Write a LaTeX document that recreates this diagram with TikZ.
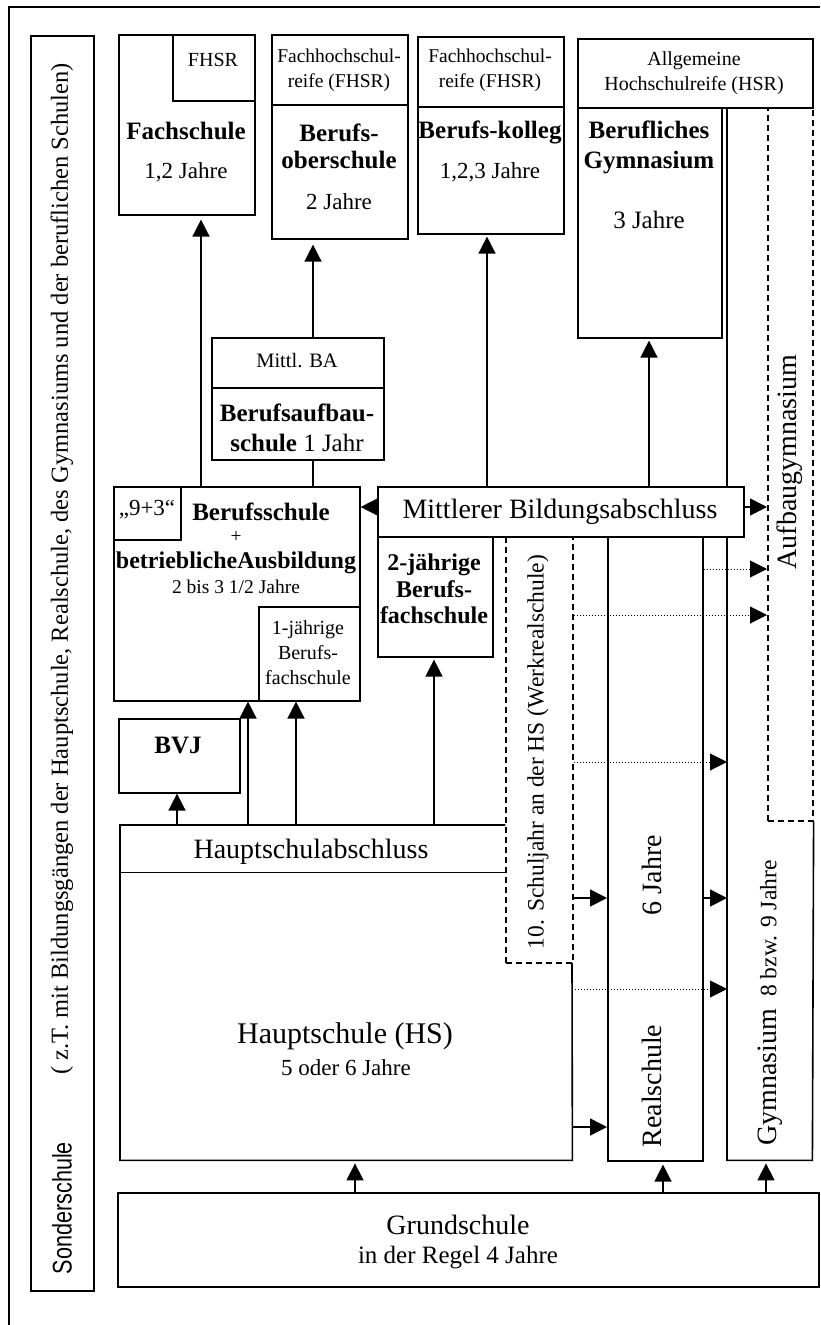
\documentclass[tikz,border=0pt]{standalone}
\usepackage{fontspec}
\setmainfont{Liberation Serif}
\newfontfamily\sonderfont{Liberation Sans}
\usetikzlibrary{arrows.meta}

\tikzset{
  box/.style={draw, line width=1.6pt, fill=white, rectangle, inner sep=0pt},
  dashbox/.style={draw, line width=1.6pt, dash pattern=on 6pt off 4pt, fill=white, rectangle, inner sep=0pt},
  hidden/.style={rectangle, inner sep=0pt},
  rim/.style={line width=1.6pt},
  arr/.style={line width=1.6pt, -{Triangle[width=17pt,length=17pt]}},
  dotarr/.style={line width=1pt, dotted, -{Triangle[width=17pt,length=17pt]}},
  lbl/.style={inner sep=0pt, align=center},
  fbold/.style={font=\fontsize{25}{27}\selectfont\bfseries},
  freg/.style={font=\fontsize{23}{26}\selectfont},
  fsmall/.style={font=\fontsize{19.5}{25}\selectfont},
  flarge/.style={font=\fontsize{28}{31}\selectfont},
}

\begin{document}
\begin{tikzpicture}[x=1pt, y=-1pt]
  \useasboundingbox (0,0) rectangle (820,1325);
  \draw[line width=2pt] (9,1325) -- (9,7) -- (820,7);

  % Gymnasium und Hauptschule (Umrisse ohne eigene Kanten)
  \node[hidden, anchor=north west, minimum width=85pt, minimum height=1053pt] (gym) at (727,107) {};
  \node[hidden, anchor=north west, minimum width=452pt, minimum height=335pt] (hs) at (120,825) {};
  \node[hidden, anchor=north west, minimum width=385pt, minimum height=47pt] (hsa) at (120,825) {};
  \node[dashbox, anchor=north west, minimum width=45pt, minimum height=713pt] (aufbau) at (767,107) {};
  \draw[rim] (gym.north west) -- (gym.south west) -- (gym.south east) -- (aufbau.south east);
  \draw[rim] (hsa.north east) -- (hsa.north west) -- (hs.south west) -- (hs.south east) -- (572,962);
  \draw[rim] (hsa.south west) -- (hsa.south east);

  % Kaesten
  \foreach \n/\xa/\ya/\xb/\yb in {
      sonder/30/35/93/1290, fachs/118/34/254/214, fhsrA/172/34/254/100,
      bosR/271/34/407/104, bos/271/104/407/238, bkR/417/36/563/106,
      bk/417/106/563/233, hsr/577/38/812/107, bg/577/107/721/337,
      mittl/211/337/383/387, bas/211/387/383/459, bsch/113/486/359/700,
      neun/113/486/180/539, bfsA/258/606/359/700, bfsB/377/536/492/656,
      bvj/118/718/239/792, real/607/536/702/1160, grund/117/1192/818/1286}
    \node[box, anchor=north west, minimum width={(\xb-\xa)*1pt},
          minimum height={(\yb-\ya)*1pt}] (\n) at (\xa,\ya) {};
  \node[dashbox, anchor=north west, minimum width=67pt, minimum height=426pt] (wrs) at (505,536) {};
  \node[box, anchor=north west, minimum width=366pt, minimum height=50pt] (mba) at (377,486) {};

  % Texte
  \node[lbl, fsmall, font=\fontsize{20}{24}\selectfont] (tFhsrA) at (213,60) {FHSR};
  \node[lbl, fbold] (tFachs) at (186,131) {Fachschule};
  \node[lbl, freg] (tFachsJ) at (186,172) {1,2 Jahre};
  \node[lbl, fsmall] (tBosR) at (339,70) {Fachhochschul-\\reife (FHSR)};
  \node[lbl, fbold] (tBos) at (339,146) {Berufs-\\oberschule};
  \node[lbl, freg] (tBosJ) at (339,202) {2 Jahre};
  \node[lbl, fsmall] (tBkR) at (490,70) {Fachhochschul-\\reife (FHSR)};
  \node[lbl, fbold] (tBk) at (490,132) {Berufs-kolleg};
  \node[lbl, freg] (tBkJ) at (490,172) {1,2,3 Jahre};
  \node[lbl, fsmall, font=\fontsize{20}{25}\selectfont] (tHsr) at (694,73) {Allgemeine\\Hochschulreife (HSR)};
  \node[lbl, fbold, font=\fontsize{25}{30}\selectfont\bfseries] (tBg) at (649,147) {Berufliches\\Gymnasium};
  \node[lbl, freg, font=\fontsize{25}{28}\selectfont] (tBgJ) at (649,220) {3 Jahre};
  \node[lbl, fsmall, font=\fontsize{20.5}{24}\selectfont] (tMittl) at (297,361) {Mittl. BA};
  \node[lbl, fbold, font=\fontsize{25}{30}\selectfont\bfseries] (tBas) at (297,428) {Berufsaufbau-\\schule \textmd{1 Jahr}};
  \node[lbl, freg] (tNeun) at (147,510) {„9+3“};
  \node[lbl, fbold] (tBsch) at (261,512) {Berufsschule};
  \node[lbl, fsmall] (tPlus) at (236,537) {+};
  \node[lbl, fbold, font=\fontsize{24}{26}\selectfont\bfseries] (tBetr) at (236,563) {betrieblicheAusbildung};
  \node[lbl, fsmall] (tBschJ) at (236,587) {2 bis 3 1/2 Jahre};
  \node[lbl, fsmall, font=\fontsize{20}{25}\selectfont] (tBfsA) at (308,653) {1-jährige\\Berufs-\\fachschule};
  \node[lbl, flarge] (tMba) at (560,512) {Mittlerer Bildungsabschluss};
  \node[lbl, fbold, font=\fontsize{24}{26.5}\selectfont\bfseries] (tBfsB) at (434,589) {2-jährige\\Berufs-\\fachschule};
  \node[lbl, fbold] (tBvj) at (178,745) {BVJ};
  \node[lbl, flarge] (tHsa) at (311,852) {Hauptschulabschluss};
  \node[lbl, flarge, font=\fontsize{30}{33}\selectfont] (tHs) at (345,1036) {Hauptschule (HS)};
  \node[lbl, freg] (tHsJ) at (346,1068) {5 oder 6 Jahre};
  \node[lbl, freg, font=\fontsize{23.5}{26}\selectfont, rotate=90] (tWrs) at (538,752) {10. Schuljahr an der HS (Werkrealschule)};
  \node[lbl, flarge, rotate=90] (tRsJ) at (652,875) {6 Jahre};
  \node[lbl, flarge, rotate=90] (tRs) at (652,1086) {Realschule};
  \node[lbl, flarge, rotate=90] (tGym) at (770,1003) {Gymnasium\hspace{12pt}{\fontsize{23.5}{26}\selectfont 8 bzw. 9 Jahre}};
  \node[lbl, flarge, rotate=90] (tAufbau) at (790,462) {Aufbaugymnasium};
  \node[lbl, flarge] (tGrund) at (458,1225) {Grundschule};
  \node[lbl, freg, font=\fontsize{25}{28}\selectfont] (tGrundJ) at (458,1258) {in der Regel 4 Jahre};
  \node[lbl, font=\fontsize{27}{29}\sonderfont, rotate=90] (tSonder) at (62,1208) {\scalebox{0.8}[1]{Sonderschule}};
  \node[lbl, font=\fontsize{24.5}{27}\selectfont, rotate=90] (tSonderZ) at (62,569)
    {( z.T. mit Bildungsgängen der Hauptschule, Realschule, des Gymnasiums und der beruflichen Schulen)};

  % Pfeile
  \coordinate (cFS) at (201,0);
  \coordinate (cBOS) at (313,0);
  \coordinate (cBK) at (487,0);
  \coordinate (cBG) at (649,0);
  \coordinate (cBVJ) at (177,0);
  \coordinate (cBS1) at (248,0);
  \coordinate (cBS2) at (296,0);
  \coordinate (cBF2) at (434,0);
  \coordinate (cHS) at (355,0);
  \coordinate (cRS) at (663,0);
  \coordinate (cGY) at (766,0);
  \coordinate (rMBA) at (0,507);
  \coordinate (rA) at (0,569);
  \coordinate (rB) at (0,615);
  \coordinate (rC) at (0,762);
  \coordinate (rD) at (0,989);
  \coordinate (rE) at (0,898);
  \coordinate (rF) at (0,1127);

  \draw[arr, shorten >=4pt] (bsch.north -| cFS) -- (fachs.south -| cFS);
  \draw[rim] (bas.south -| cBOS) -- (bsch.north -| cBOS);
  \draw[arr, shorten >=5pt] (mittl.north -| cBOS) -- (bos.south -| cBOS);
  \draw[arr, shorten >=2pt] (mba.north -| cBK) -- (bk.south -| cBK);
  \draw[arr, shorten >=2pt] (mba.north -| cBG) -- (bg.south -| cBG);
  \draw[arr] (mba.west |- rMBA) -- (bsch.east |- rMBA);
  \draw[arr] (mba.east |- rMBA) -- (aufbau.west |- rMBA);
  \draw[arr, shorten >=2pt] (hsa.north -| cBF2) -- (bfsB.south -| cBF2);
  \draw[arr] (hsa.north -| cBVJ) -- (bvj.south -| cBVJ);
  \draw[arr] (hsa.north -| cBS1) -- (bsch.south -| cBS1);
  \draw[arr] (hsa.north -| cBS2) -- (bsch.south -| cBS2);
  \draw[dotarr] (real.east |- rA) -- (aufbau.west |- rA);
  \draw[dotarr] (wrs.east |- rB) -- (aufbau.west |- rB);
  \draw[dotarr] (wrs.east |- rC) -- (gym.west |- rC);
  \draw[dotarr] (hs.east |- rD) -- (gym.west |- rD);
  \draw[arr] (wrs.east |- rE) -- (real.west |- rE);
  \draw[arr] (real.east |- rE) -- (gym.west |- rE);
  \draw[arr] (hs.east |- rF) -- (real.west |- rF);
  \draw[arr, shorten >=3pt] (grund.north -| cHS) -- (hs.south -| cHS);
  \draw[arr, shorten >=3pt] (grund.north -| cRS) -- (real.south -| cRS);
  \draw[arr, shorten >=3pt] (grund.north -| cGY) -- (gym.south -| cGY);
\end{tikzpicture}
\end{document}
